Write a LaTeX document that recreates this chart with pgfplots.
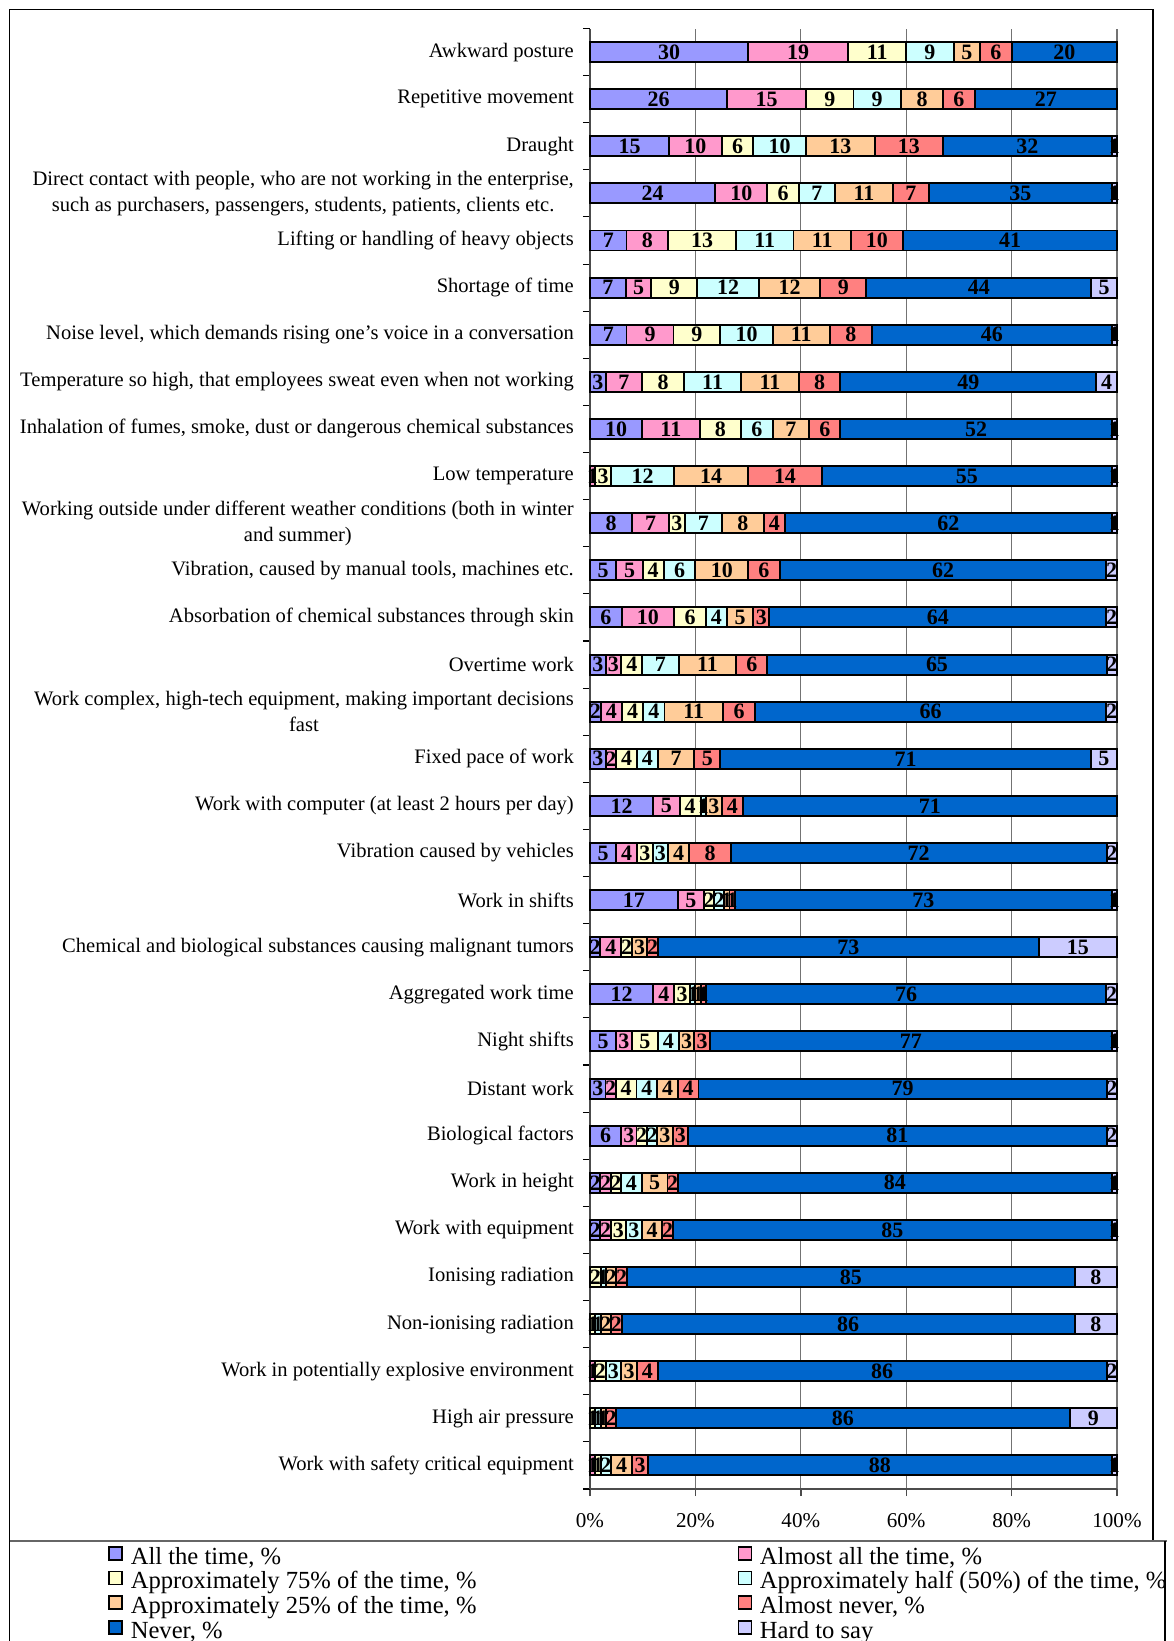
\documentclass[border=0pt]{standalone}
\usepackage{fontspec}
\setmainfont{Liberation Serif}
\usepackage{pgfplots}
\usepackage{pgfplotstable}
\pgfplotsset{compat=1.18}

\definecolor{cA}{RGB}{153,153,255}
\definecolor{cB}{RGB}{255,153,204}
\definecolor{cC}{RGB}{255,255,204}
\definecolor{cD}{RGB}{204,255,255}
\definecolor{cE}{RGB}{255,204,153}
\definecolor{cF}{RGB}{255,128,128}
\definecolor{cG}{RGB}{0,102,204}
\definecolor{cH}{RGB}{204,204,255}

% a: all the time ... g: never, h: hard to say (row 0 = top bar)
\pgfplotstableread{
idx a b c d e f g h
0 30 19 11 9 5 6 20 0
1 26 15 9 9 8 6 27 0
2 15 10 6 10 13 13 32 1
3 24 10 6 7 11 7 35 1
4 7 8 13 11 11 10 41 0
5 7 5 9 12 12 9 44 5
6 7 9 9 10 11 8 46 1
7 3 7 8 11 11 8 49 4
8 10 11 8 6 7 6 52 1
9 0 1 3 12 14 14 55 1
10 8 7 3 7 8 4 62 1
11 5 5 4 6 10 6 62 2
12 6 10 6 4 5 3 64 2
13 3 3 4 7 11 6 65 2
14 2 4 4 4 11 6 66 2
15 3 2 4 4 7 5 71 5
16 12 5 4 1 3 4 71 0
17 5 4 3 3 4 8 72 2
18 17 5 2 2 1 1 73 1
19 2 4 2 0 3 2 73 15
20 12 4 3 1 1 1 76 2
21 5 3 5 4 3 3 77 1
22 3 2 4 4 4 4 79 2
23 6 3 2 2 3 3 81 2
24 2 2 2 4 5 2 84 1
25 2 2 3 3 4 2 85 1
26 0 0 2 1 2 2 85 8
27 0 0 1 1 2 2 86 8
28 0 1 2 3 3 4 86 2
29 0 0 1 1 1 2 86 9
30 0 1 1 2 4 3 88 1
}\risks

% 100% stacked: scale each row to its total
\pgfplotstablecreatecol[create col/expr={\thisrow{a}+\thisrow{b}+\thisrow{c}+\thisrow{d}+\thisrow{e}+\thisrow{f}+\thisrow{g}+\thisrow{h}}]{tot}\risks
\pgfplotstablecreatecol[create col/expr={100*\thisrow{a}/\thisrow{tot}}]{an}\risks
\pgfplotstablecreatecol[create col/expr={100*\thisrow{b}/\thisrow{tot}}]{bn}\risks
\pgfplotstablecreatecol[create col/expr={100*\thisrow{c}/\thisrow{tot}}]{cn}\risks
\pgfplotstablecreatecol[create col/expr={100*\thisrow{d}/\thisrow{tot}}]{dn}\risks
\pgfplotstablecreatecol[create col/expr={100*\thisrow{e}/\thisrow{tot}}]{en}\risks
\pgfplotstablecreatecol[create col/expr={100*\thisrow{f}/\thisrow{tot}}]{fn}\risks
\pgfplotstablecreatecol[create col/expr={100*\thisrow{g}/\thisrow{tot}}]{gn}\risks
\pgfplotstablecreatecol[create col/expr={100*\thisrow{h}/\thisrow{tot}}]{hn}\risks

\pgfplotsset{
  seg/.style={fill=#1, draw=black, line width=1.1pt,
    legend image code/.code={\draw[fill=#1, draw=black, line width=1.1pt]
      (0mm,-0.1mm) rectangle (2.6mm,2.5mm);}},
}

\begin{document}
\begin{tikzpicture}
\begin{axis}[
  scale only axis, width=105.4mm, height=292.1mm,
  at={(118mm,-297.8mm)}, anchor=south west,
  xbar stacked, bar width=4mm,
  xmin=0, xmax=100, ymin=-30.5, ymax=0.5,
  clip=false,
  axis x line*=bottom, axis y line*=left,
  axis line style={black!70, line width=0.8pt},
  xtick={0,20,40,60,80,100},
  xticklabels={0\%,20\%,40\%,60\%,80\%,100\%},
  xticklabel style={font=\fontsize{12}{12}\selectfont, yshift=-2.2mm},
  xmajorgrids, major grid style={black!55, line width=0.6pt},
  tick align=outside, major tick length=1.4mm, minor tick length=1.4mm,
  major x tick style={black!70, line width=0.8pt},
  ytick={-30,-29,...,0},
  minor ytick={-30.5,-29.5,...,0.5},
  major y tick style={draw=none},
  minor y tick style={black, line width=0.6pt},
  yticklabels={
    {Work with safety critical equipment},
    {High air pressure},
    {Work in potentially explosive environment},
    {Non-ionising radiation},
    {Ionising radiation},
    {Work with equipment},
    {Work in height},
    {Biological factors},
    {Distant work},
    {Night shifts},
    {Aggregated work time},
    {Chemical and biological substances causing malignant tumors},
    {Work in shifts},
    {Vibration caused by vehicles},
    {Work with computer (at least 2 hours per day)},
    {Fixed pace of work},
    {Work complex, high-tech equipment, making important decisions\\fast},
    {Overtime work},
    {Absorbation of chemical substances through skin},
    {Vibration, caused by manual tools, machines etc.},
    {Working outside under different weather conditions (both in winter\\and summer)},
    {Low temperature},
    {Inhalation of fumes, smoke, dust or dangerous chemical substances},
    {Temperature so high, that employees sweat even when not working},
    {Noise level, which demands rising one’s voice in a conversation},
    {Shortage of time},
    {Lifting or handling of heavy objects},
    {Direct contact with people, who are not working in the enterprise,\\such as purchasers, passengers, students, patients, clients etc.},
    {Draught},
    {Repetitive movement},
    {Awkward posture}},
  yticklabel style={font=\fontsize{11.7}{14.8}\selectfont, align=center, xshift=-0.6mm},
  point meta=explicit symbolic,
  nodes near coords,
  every node near coord/.append style={font=\fontsize{12.5}{12.5}\selectfont\bfseries,
    text=black, anchor=center, inner sep=0pt},
  legend columns=2,
  legend cell align=left,
  legend style={at={(-0.9146,-0.0387)}, anchor=north west, draw=none, fill=none,
    inner sep=0pt, font=\fontsize{14}{14}\selectfont,
    nodes={inner sep=0pt, text height=9.1pt, text depth=3.6pt},
    /tikz/every odd column/.append style={column sep=1.5mm},
    /tikz/every even column/.append style={column sep=52.2mm}},
]
\addplot[seg=cA] table[x=an, y expr=-\thisrow{idx}, meta=a] {\risks};
\addlegendentry{All the time, \%}
\addplot[seg=cB] table[x=bn, y expr=-\thisrow{idx}, meta=b] {\risks};
\addlegendentry{Almost all the time, \%}
\addplot[seg=cC] table[x=cn, y expr=-\thisrow{idx}, meta=c] {\risks};
\addlegendentry{Approximately 75\% of the time, \%}
\addplot[seg=cD] table[x=dn, y expr=-\thisrow{idx}, meta=d] {\risks};
\addlegendentry{Approximately half (50\%) of the time, \%}
\addplot[seg=cE] table[x=en, y expr=-\thisrow{idx}, meta=e] {\risks};
\addlegendentry{Approximately 25\% of the time, \%}
\addplot[seg=cF] table[x=fn, y expr=-\thisrow{idx}, meta=f] {\risks};
\addlegendentry{Almost never, \%}
\addplot[seg=cG] table[x=gn, y expr=-\thisrow{idx}, meta=g] {\risks};
\addlegendentry{Never, \%}
\addplot[seg=cH] table[x=hn, y expr=-\thisrow{idx}, meta=h] {\risks};
\addlegendentry{Hard to say}
\end{axis}
% chart area frame and legend separator
\draw[black, line width=0.6pt] (1.9mm,-328.2mm) -- (1.9mm,-1.9mm) -- (230.6mm,-1.9mm) -- (230.6mm,-308.2mm);
\draw[black!60, line width=1pt] (1.9mm,-308.2mm) -- (233.4mm,-308.2mm);
\draw[black, line width=0.6pt] (233mm,-308.2mm) -- (233mm,-328.2mm);
\pgfresetboundingbox
\useasboundingbox (0,0) rectangle (234.6mm,-328.2mm);
\end{tikzpicture}
\end{document}
